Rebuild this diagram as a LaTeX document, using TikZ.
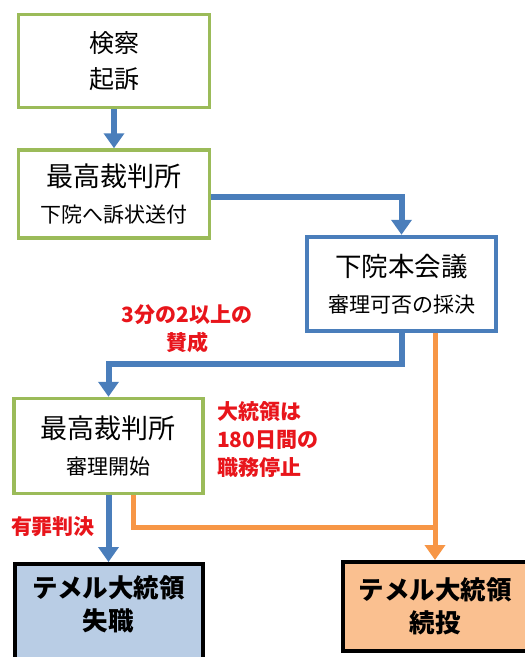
\documentclass[tikz,border=0pt]{standalone}
\usepackage{fontspec}
\setmainfont{Noto Sans CJK JP}
\usetikzlibrary{arrows.meta}

\definecolor{boxgreen}{HTML}{9BBB59}
\definecolor{flowblue}{HTML}{4A7EBB}
\definecolor{floworange}{HTML}{F79646}
\definecolor{lostfill}{HTML}{B9CDE5}
\definecolor{stayfill}{HTML}{FAC090}
\definecolor{notered}{HTML}{E8151B}

\begin{document}
\begin{tikzpicture}[x=1pt,y=-1pt,
    stepbox/.style={draw=boxgreen, line width=3.5pt, inner sep=0pt, align=center,
      font=\fontsize{21}{36}\selectfont},
    housebox/.style={stepbox, draw=flowblue, line width=4.5pt},
    endbox/.style={draw=black, line width=4pt, inner sep=0pt, align=center,
      font=\bfseries\fontsize{25.5}{33}\selectfont},
    note/.style={text=notered, inner sep=0pt, font=\bfseries\fontsize{21}{28}\selectfont},
    bluearrow/.style={draw=flowblue, line width=6pt, -{Triangle[width=20pt,length=15pt]}},
    orangeline/.style={draw=floworange, line width=5pt},
    orangearrow/.style={orangeline, -{Triangle[width=20pt,length=15pt]}}]
    \useasboundingbox (0,0) rectangle (525,657);

    \node[stepbox, minimum width=191pt, minimum height=93pt] (prosecution) at (114,61)
      {{\fontsize{25}{36}\selectfont 検察}\\{\fontsize{25}{36}\selectfont 起訴}};
    \node[stepbox, minimum width=191pt, minimum height=88pt] (courtsend) at (114,194)
      {{\fontsize{27}{36}\selectfont 最高裁判所}\\下院へ訴状送付};
    \node[housebox, minimum width=189pt, minimum height=94pt] (lowerhouse) at (401.5,284)
      {{\fontsize{26.5}{40}\selectfont 下院本会議}\\審理可否の採決};
    \node[stepbox, minimum width=189pt, minimum height=95pt] (courttrial) at (108.5,446)
      {{\fontsize{27}{36}\selectfont 最高裁判所}\\審理開始};
    \node[endbox, fill=lostfill, minimum width=188pt, minimum height=104pt, text depth=26pt] (removed) at (108.5,616)
      {テメル大統領\\失職};
    \node[endbox, fill=stayfill, minimum width=185pt, minimum height=89pt] (stays) at (435,606.5)
      {テメル大統領\\続投};

    \node[note, align=center] (twothirds) at (187,329) {3分の2以上の\\賛成};
    \node[note, align=left, anchor=west] (suspend) at (217,440) {大統領は\\180日間の\\職務停止};
    \node[note] (guilty) at (53,527) {有罪判決};

    \coordinate (merge) at (435,527);

    \draw[bluearrow] (prosecution) -- (courtsend);
    \draw[bluearrow] ([yshift=-3pt]courtsend.east) -| (lowerhouse.north);
    \draw[bluearrow] (lowerhouse.south) -- ++(0,31) -| (courttrial.north);
    \draw[orangearrow] ([xshift=33.5pt]lowerhouse.south) -- (stays.north);
    \draw[orangeline] ([xshift=25pt]courttrial.south) |- (merge);
    \draw[bluearrow] (courttrial.south) -- (removed.north);
\end{tikzpicture}
\end{document}
